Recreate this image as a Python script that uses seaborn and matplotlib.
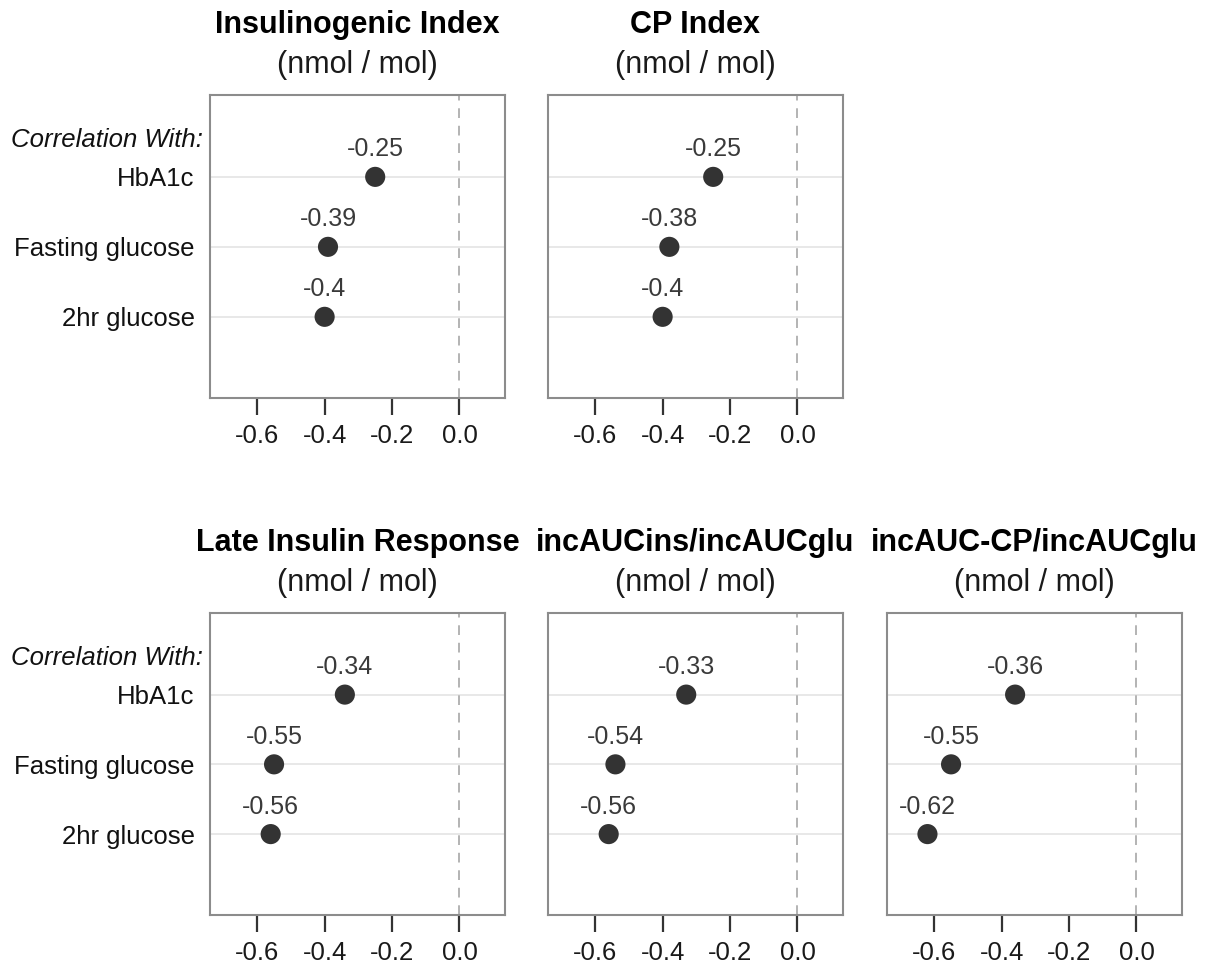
import matplotlib
matplotlib.use("Agg")
import matplotlib.pyplot as plt
import matplotlib.transforms as mtransforms
import seaborn as sns
import pandas as pd

categories = ["HbA1c", "Fasting glucose", "2hr glucose"]
titles = ["Insulinogenic Index", "CP Index", "Late Insulin Response",
          "incAUCins/incAUCglu", "incAUC-CP/incAUCglu"]
insulinogenic = [-0.25, -0.39, -0.40]
cp_index = [-0.25, -0.38, -0.40]
late_insulin = [-0.34, -0.55, -0.56]
incauc_ins = [-0.33, -0.54, -0.56]
incauc_cp = [-0.36, -0.55, -0.62]
value_labels = [["-0.25", "-0.39", "-0.4"], ["-0.25", "-0.38", "-0.4"],
                ["-0.34", "-0.55", "-0.56"], ["-0.33", "-0.54", "-0.56"],
                ["-0.36", "-0.55", "-0.62"]]
x_ticks = [-0.6, -0.4, -0.2, 0.0]
x_tick_labels = ["-0.6", "-0.4", "-0.2", "0.0"]
units = "(nmol / mol)"

series = [insulinogenic, cp_index, late_insulin, incauc_ins, incauc_cp]

sns.set_theme(style="white")
plt.rcParams['font.family'] = ['Liberation Sans', 'DejaVu Sans']

W, H = 1217, 969
fig = plt.figure(figsize=(W / 100, H / 100), dpi=100)

col_left = [210, 548, 887]
ax_w = 295
rows = [(95, 398), (613, 915)]
positions = [(0, 0), (0, 1), (1, 0), (1, 1), (1, 2)]

dot_color = "#333333"
for i, (r, c) in enumerate(positions):
    top, bot = rows[r]
    left = col_left[c]
    ax = fig.add_axes([left / W, 1 - bot / H, ax_w / W, (bot - top) / H])
    df = pd.DataFrame({"category": categories, "value": series[i]})
    for k, cat in enumerate(categories):
        ax.axhline(k, color="#e6e6e6", lw=1.3, zorder=0)
    ax.axvline(0, color="#b3b3b3", lw=1.4, ls=(0, (5, 4)), zorder=1)
    sns.scatterplot(data=df, x="value", y="category", ax=ax, s=210,
                    color=dot_color, edgecolor="none", zorder=3, legend=False)
    for k, (v, lab) in enumerate(zip(series[i], value_labels[i])):
        ax.text(v, k - 0.22, lab, ha="center", va="bottom", fontsize=18,
                color="#3a3a3a")
    ax.set_xlim(-0.74, 0.135)
    ax.set_ylim(3.16, -1.17)
    ax.set_xticks(x_ticks)
    ax.set_xticklabels(x_tick_labels, fontsize=18.5, color="#1a1a1a")
    ax.tick_params(axis="x", length=12, width=1.6, color="#333333", pad=7,
                   bottom=True)
    ax.set_xlabel("")
    ax.set_ylabel("")
    if c == 0:
        ax.set_yticks(range(len(categories)))
        ax.set_yticklabels(categories, fontsize=18.5, color="#111111")
        ax.tick_params(axis="y", length=0, pad=11)
        trans = mtransforms.blended_transform_factory(
            ax.transAxes, ax.transData)
        ax.text(-0.025, -0.53, "Correlation With:", transform=trans,
                ha="right", va="center", fontsize=18.5, style="italic",
                color="#111111")
    else:
        ax.set_yticks(range(len(categories)))
        ax.set_yticklabels([])
        ax.tick_params(axis="y", length=0)
    for sp in ax.spines.values():
        sp.set_visible(True)
        sp.set_color("#8c8c8c")
        sp.set_linewidth(1.5)
    ax.grid(False)
    ax.set_facecolor("white")
    cx = (left + ax_w / 2) / W
    fig.text(cx, 1 - (top - 70) / H, titles[i], ha="center", va="center",
             fontsize=22, fontweight="bold", color="black")
    fig.text(cx, 1 - (top - 30) / H, units, ha="center", va="center",
             fontsize=22, color="#1a1a1a")

fig.savefig("out.png", dpi=100, facecolor="white")
